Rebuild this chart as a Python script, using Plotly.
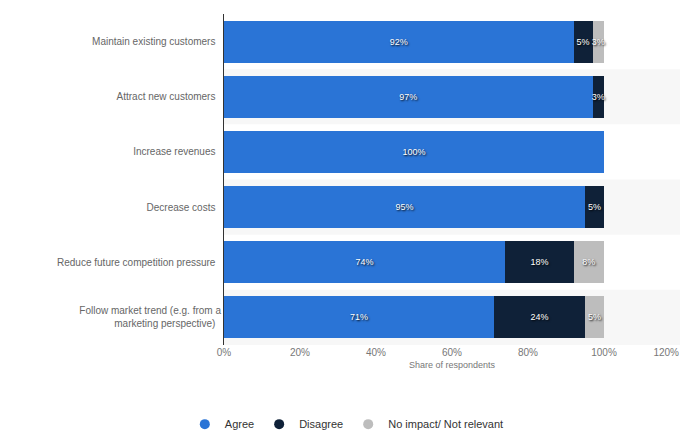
import plotly.graph_objects as go

categories = [
    "Maintain existing customers",
    "Attract new customers",
    "Increase revenues",
    "Decrease costs",
    "Reduce future competition pressure",
    "Follow market trend (e.g. from a<br>marketing perspective)",
]
agree = [92, 97, 100, 95, 74, 71]
disagree = [5, 3, 0, 5, 18, 24]
no_impact = [3, 0, 0, 0, 8, 5]
series_names = ["Agree", "Disagree", "No impact/ Not relevant"]
colors = ["#2a74d6", "#0f2138", "#bdbdbd"]
xticks = [0, 20, 40, 60, 80, 100]
xtick_last = [120]

fig = go.Figure()
for name, vals, col in zip(series_names, [agree, disagree, no_impact], colors):
    fig.add_trace(go.Bar(
        y=categories, x=vals, orientation="h", name=name,
        marker=dict(color=col, line=dict(width=0)),
        text=[f"{v}%" if v > 0 else "" for v in vals],
        textposition="inside", insidetextanchor="middle",
        constraintext="none", textangle=0,
        textfont=dict(color="white", size=9, family="Liberation Sans",
                      shadow="1px 1px 2px #000"),
        showlegend=False, hoverinfo="skip",
    ))
for name, col in zip(series_names, colors):
    fig.add_trace(go.Scatter(
        x=[None], y=[None], mode="markers", name=name, xaxis="x2",
        marker=dict(color=col, size=10, symbol="circle"),
        showlegend=True,
    ))

# alternating row bands
shapes = []
for i in range(len(categories)):
    if i % 2 == 1:
        shapes.append(dict(type="rect", xref="paper", yref="y",
                           x0=0, x1=1, y0=i - 0.5, y1=i + 0.5,
                           fillcolor="#f7f7f7", line=dict(width=0), layer="below"))

fig.update_layout(
    width=680, height=435,
    margin=dict(l=224, r=0, t=14, b=90),
    barmode="stack", bargap=0.24,
    plot_bgcolor="white", paper_bgcolor="white",
    font=dict(family="Liberation Sans", size=10, color="#666666"),
    shapes=shapes,
    xaxis=dict(range=[0, 120], tickvals=xticks,
               ticktext=[f"{t}%" for t in xticks],
               automargin=False,
               showgrid=False, zeroline=False, showline=False,
               tickfont=dict(size=10, color="#777777"),
               title=dict(text="Share of respondents", font=dict(size=9, color="#777777"), standoff=4)),
    xaxis2=dict(range=[0, 120], overlaying="x", side="bottom", anchor="y",
                tickvals=xtick_last, ticktext=[f"{t}%" for t in xtick_last],
                ticklabelposition="outside left", ticklabelshift=-1,
                automargin=False, showgrid=False, zeroline=False, showline=False,
                tickfont=dict(size=10, color="#777777")),
    yaxis=dict(autorange="reversed", showgrid=False, zeroline=False,
               showline=True, linecolor="#333333", linewidth=1,
               ticks="", ticksuffix="  ",
               tickfont=dict(size=10, color="#666666")),
    legend=dict(orientation="h", xref="container", x=0.51, xanchor="center",
                yref="container", y=0.025, yanchor="middle",
                traceorder="normal",
                font=dict(size=11, color="#333333")),
)

fig.write_html("out.html")
